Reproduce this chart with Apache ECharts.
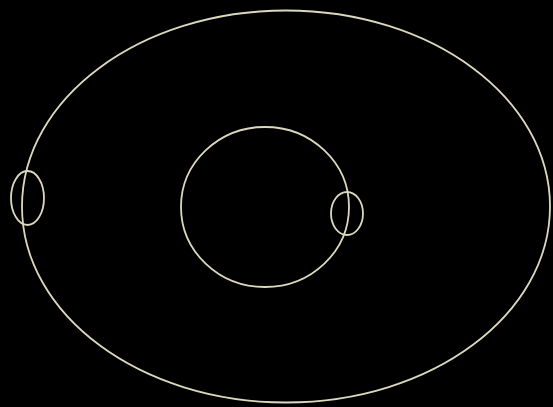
<!DOCTYPE html>
<html>
<head>
<meta charset="utf-8">
<script src="https://cdn.jsdelivr.net/npm/echarts@6/dist/echarts.min.js"></script>
<style>
  html, body { margin: 0; padding: 0; background: #000; }
  #chart { width: 553px; height: 407px; }
</style>
</head>
<body>
<div id="chart"></div>
<script>
// ellipses: outer, inner, small left, small right
var names = ['outer', 'inner', 'left', 'right'];
var centerX = [286, 265, 27.5, 347];
var centerY = [206.5, 207, 198, 213.5];
var radiusX = [264, 84, 16.5, 16];
var radiusY = [196, 80, 27, 21.5];

var rows = [];
for (var i = 0; i < names.length; i++) {
  rows.push([centerX[i], centerY[i], radiusX[i], radiusY[i], names[i]]);
}

var chart = echarts.init(document.getElementById('chart'));

function drawEllipse(params, api) {
  var c = api.coord([api.value(0), api.value(1)]);
  var s = api.size([api.value(2), api.value(3)]);
  return {
    type: 'ellipse',
    shape: { cx: c[0], cy: c[1], rx: s[0], ry: s[1] },
    style: { fill: null, stroke: '#dcd8be', lineWidth: 1.8 }
  };
}

var option = {
  backgroundColor: '#000',
  animation: false,
  grid: { left: 0, right: 0, top: 0, bottom: 0 },
  xAxis: { type: 'value', min: 0, max: 553, show: false },
  yAxis: { type: 'value', min: 0, max: 407, inverse: true, show: false },
  series: [{
    type: 'custom',
    renderItem: drawEllipse,
    data: rows
  }]
};
chart.setOption(option);
</script>
</body>
</html>
